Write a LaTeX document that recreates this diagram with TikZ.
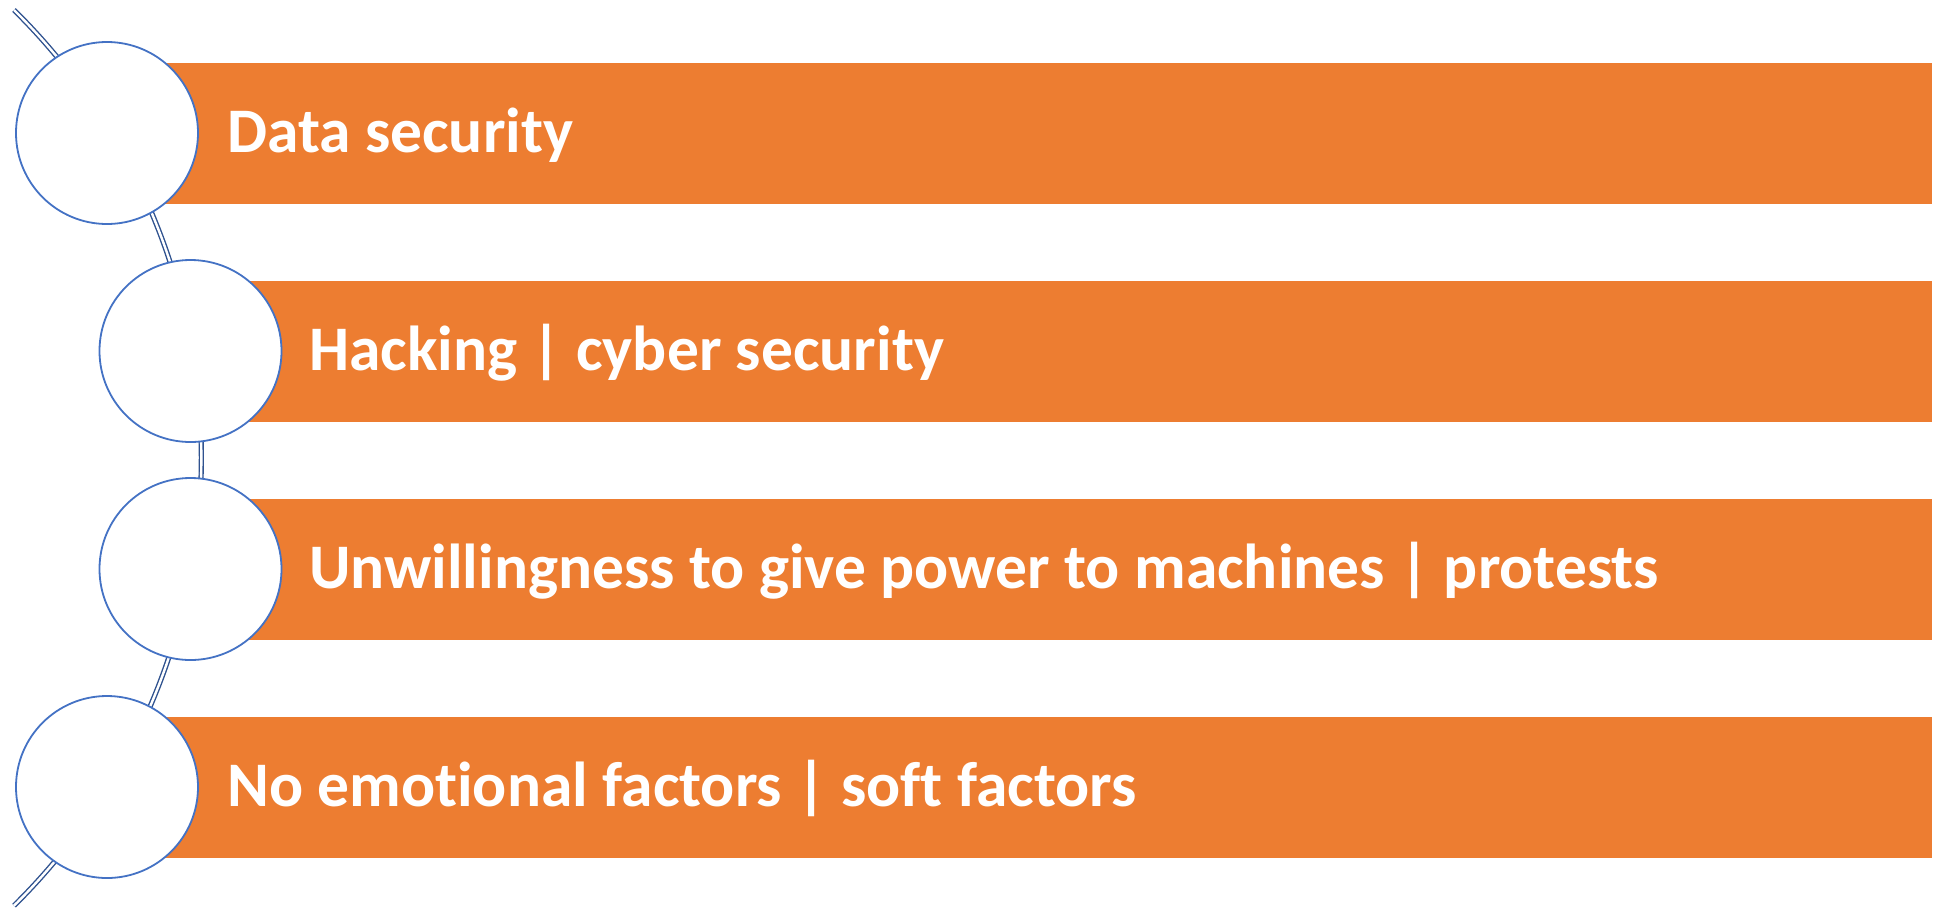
\documentclass[tikz,border=0pt]{standalone}
\usepackage{fontspec}
\setmainfont{Carlito}[Ligatures=NoCommon]
\definecolor{boxorange}{HTML}{ED7D31}
\definecolor{ringblue}{HTML}{4472C4}
\definecolor{arcblue}{HTML}{2F528F}
\begin{document}
\begin{tikzpicture}[x=1pt,y=-1pt,
  bar/.style={rectangle, fill=boxorange, draw=white, line width=0.8pt, inner sep=0pt, anchor=west, minimum height=142pt},
  bullet/.style={circle, fill=white, draw=ringblue, line width=1.8pt, minimum size=182pt, inner sep=0pt},
  itemtext/.style={anchor=base west, inner sep=0pt, text=white, font=\fontsize{63.5}{76}\selectfont\bfseries},
  spine/.style={draw=arcblue, double=white, line width=1.4pt, double distance=2.4pt}
]
\useasboundingbox (0,0) rectangle (1934,916);
% spine arc
\coordinate (arctop) at (14,10);
\draw[spine] (arctop) arc[start angle=-45.4, end angle=45.4, radius=629];
% bars
\node[bar, minimum width=1782pt] (r1) at (150,133) {};
\node[bar, minimum width=1782pt] (r2) at (150,351) {};
\node[bar, minimum width=1782pt] (r3) at (150,569) {};
\node[bar, minimum width=1782pt] (r4) at (150,787) {};
% circles
\node[bullet] (c1) at (107,133) {};
\node[bullet] (c2) at (190.5,351) {};
\node[bullet] (c3) at (190.5,569) {};
\node[bullet] (c4) at (107,787) {};
% texts
\node[itemtext] (t1) at (227,152.5) {Data security};
\node[itemtext] (t2) at (309,370.5) {Hacking | cyber security};
\node[itemtext] (t3) at (309,588.5) {Unwillingness to give power to machines | protests};
\node[itemtext] (t4) at (227,806.5) {No emotional factors | soft factors};
\end{tikzpicture}
\end{document}
